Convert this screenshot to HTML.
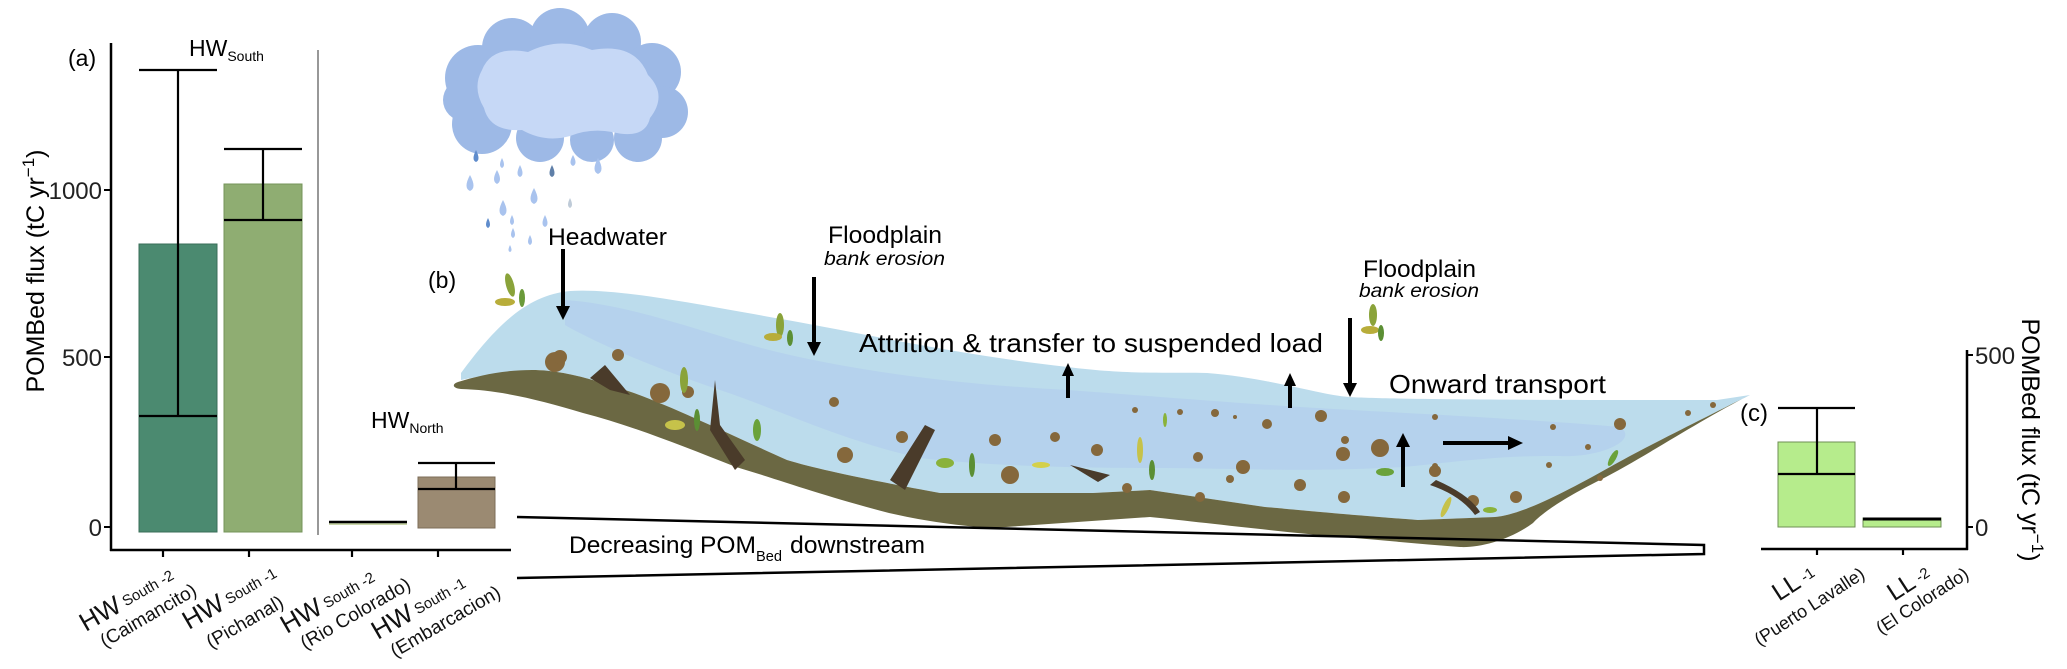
<!DOCTYPE html>
<html><head><meta charset="utf-8"><style>
html,body{margin:0;padding:0;background:#fff;}
svg{display:block;font-family:"Liberation Sans",Arial,sans-serif;}
</style></head><body>
<svg width="2067" height="669" viewBox="0 0 2067 669" xmlns="http://www.w3.org/2000/svg">
<!-- ===== Panel (a) ===== -->
<text x="68" y="66" font-size="23">(a)</text>
<line x1="111" y1="43" x2="111" y2="551" stroke="#000" stroke-width="2.5"/>
<line x1="110" y1="550" x2="511" y2="550" stroke="#000" stroke-width="2.5"/>
<line x1="104" y1="190" x2="111" y2="190" stroke="#000" stroke-width="2"/>
<line x1="104" y1="357" x2="111" y2="357" stroke="#000" stroke-width="2"/>
<line x1="104" y1="527" x2="111" y2="527" stroke="#000" stroke-width="2"/>
<text x="102" y="199" font-size="24" text-anchor="end" fill="#222">1000</text>
<text x="102" y="366" font-size="24" text-anchor="end" fill="#222">500</text>
<text x="102" y="536" font-size="24" text-anchor="end" fill="#222">0</text>
<text transform="translate(44,271) rotate(-90)" font-size="25" text-anchor="middle">POMBed flux (tC yr<tspan dy="-10" font-size="17">−1</tspan><tspan dy="10">)</tspan></text>
<text x="189" y="56" font-size="23">HW<tspan font-size="14" dy="5">South</tspan></text>
<line x1="318" y1="50" x2="318" y2="535" stroke="#777" stroke-width="1.5"/>
<rect x="139" y="244" width="78" height="288" fill="#4b8a70" stroke="#3a6e58"/>
<rect x="224" y="184" width="78" height="348" fill="#8fad72" stroke="#74945a"/>
<rect x="329" y="521" width="78" height="4" fill="#c9d6a8"/>
<line x1="329" y1="522" x2="407" y2="522" stroke="#000" stroke-width="2.5"/>
<rect x="418" y="477" width="77" height="51" fill="#9b8a72" stroke="#7d6d58"/>
<g stroke="#000" stroke-width="2.2">
<line x1="139" y1="70" x2="217" y2="70"/><line x1="178" y1="70" x2="178" y2="416"/><line x1="139" y1="416" x2="217" y2="416"/>
<line x1="224" y1="149" x2="302" y2="149"/><line x1="263" y1="149" x2="263" y2="220"/><line x1="224" y1="220" x2="302" y2="220"/>
<line x1="418" y1="463" x2="495" y2="463"/><line x1="456" y1="463" x2="456" y2="489"/><line x1="418" y1="489" x2="495" y2="489"/>
<line x1="163" y1="551" x2="163" y2="557"/><line x1="249" y1="551" x2="249" y2="557"/><line x1="352" y1="551" x2="352" y2="557"/><line x1="438" y1="551" x2="438" y2="557"/>
</g>
<text x="371" y="428" font-size="23">HW<tspan font-size="14" dy="5">North</tspan></text>
<g font-size="26" fill="#111">
<text transform="translate(176,580) rotate(-30)" text-anchor="end">HW<tspan font-size="15" dy="-2"> South -2</tspan></text>
<text transform="translate(198,594) rotate(-30)" text-anchor="end" font-size="19">(Caimancito)</text>
<text transform="translate(279,578) rotate(-30)" text-anchor="end">HW<tspan font-size="15" dy="-2"> South -1</tspan></text>
<text transform="translate(285,606) rotate(-30)" text-anchor="end" font-size="19">(Pichanal)</text>
<text transform="translate(377,582) rotate(-30)" text-anchor="end">HW<tspan font-size="15" dy="-2"> South -2</tspan></text>
<text transform="translate(412,588) rotate(-30)" text-anchor="end" font-size="19">(Rio Colorado)</text>
<text transform="translate(468,588) rotate(-30)" text-anchor="end">HW<tspan font-size="15" dy="-2"> South -1</tspan></text>
<text transform="translate(502,596) rotate(-30)" text-anchor="end" font-size="19">(Embarcacion)</text>
</g>
<!-- ===== Panel (b) ===== -->
<text x="428" y="288" font-size="23">(b)</text>
<!-- cloud -->
<g fill="#9db9e6">
<circle cx="478" cy="78" r="33"/><circle cx="512" cy="48" r="30"/><circle cx="560" cy="38" r="30"/><circle cx="612" cy="42" r="29"/><circle cx="652" cy="72" r="29"/><circle cx="662" cy="112" r="26"/><circle cx="638" cy="138" r="24"/><circle cx="592" cy="140" r="22"/><circle cx="540" cy="138" r="24"/><circle cx="482" cy="124" r="30"/><circle cx="464" cy="100" r="21"/>
</g>
<path d="M482,70 Q492,45 528,52 Q560,36 592,50 Q635,42 648,75 Q668,95 650,118 Q645,140 612,132 Q590,128 570,136 Q545,143 522,130 Q490,132 484,108 Q472,88 482,70 Z" fill="#c6d8f6"/>
<g fill="#a9c3ee">
<path d="M476,150 q-5,10 0,12 q5,-2 0,-12z" fill="#5f8ccc"/>
<path d="M502,158 q-4,8 0,10 q4,-2 0,-10z"/>
<path d="M470,175 q-7,13 0,16 q7,-3 0,-16z"/><path d="M497,170 q-6,11 0,14 q6,-3 0,-14z"/>
<path d="M520,165 q-5,10 0,12 q5,-2 0,-12z"/><path d="M552,165 q-5,10 0,12 q5,-2 0,-12z" fill="#5f7fa8"/>
<path d="M573,155 q-5,9 0,11 q5,-2 0,-11z"/><path d="M598,158 q-7,13 0,16 q7,-3 0,-16z"/>
<path d="M534,188 q-7,13 0,16 q7,-3 0,-16z"/><path d="M503,200 q-7,13 0,16 q7,-3 0,-16z"/>
<path d="M488,218 q-4,8 0,10 q4,-2 0,-10z" fill="#5f8ccc"/><path d="M512,215 q-4,8 0,10 q4,-2 0,-10z"/>
<path d="M545,215 q-5,10 0,12 q5,-2 0,-12z"/><path d="M570,198 q-4,8 0,10 q4,-2 0,-10z" fill="#bfcbd8"/>
<path d="M513,228 q-4,8 0,10 q4,-2 0,-10z"/><path d="M530,235 q-4,8 0,10 q4,-2 0,-10z"/><path d="M510,245 q-3,6 0,7 q3,-1 0,-7z"/>
</g>
<!-- water -->
<path d="M461,373 C500,320 530,295 570,291 C620,288 700,305 787,320 C870,335 960,355 1068,367 C1130,375 1170,372 1207,373 C1270,378 1320,395 1349,397 C1400,400 1600,400 1717,400 L1750,395 C1700,420 1640,450 1610,467 C1560,495 1520,515 1495,517 L1418,520 C1350,515 1300,510 1265,507 L1150,490 L1093,493 L940,493 C870,480 820,470 787,460 C720,430 680,410 634,393 C590,378 560,370 532,370 C500,372 470,378 461,380 Z" fill="#bcdcec"/>
<path d="M565,300 C640,305 720,340 790,355 C880,375 970,385 1068,390 C1150,396 1220,402 1300,407 C1380,412 1500,417 1620,427 C1640,440 1600,458 1560,456 C1480,455 1420,468 1380,468 C1300,472 1230,468 1150,468 C1060,468 980,465 920,458 C840,440 780,410 720,390 C660,370 600,345 565,325 Z" fill="#b0cbee" opacity="0.6"/>
<!-- ground -->
<path d="M458,382 C480,375 505,370 532,370 C560,370 590,378 634,393 C680,410 720,430 787,460 C820,470 870,480 940,493 L1093,493 L1150,490 L1265,507 C1300,510 1350,515 1418,520 L1495,517 C1520,515 1560,495 1610,467 C1640,450 1700,420 1750,395 C1700,420 1640,460 1600,480 C1560,500 1540,515 1533,523 C1510,540 1480,548 1460,547 C1420,544 1380,540 1342,537 C1280,532 1200,522 1150,517 L991,528 C950,525 920,520 889,513 C820,495 780,480 736,467 C680,445 630,425 583,413 C540,400 500,390 461,389 C452,388 452,384 458,382 Z" fill="#6b6843"/>
<!-- debris blobs -->
<g fill="#85683c">
<circle cx="555" cy="362" r="10"/><circle cx="560" cy="357" r="7"/><circle cx="618" cy="355" r="6"/><circle cx="660" cy="393" r="10"/><circle cx="688" cy="392" r="6"/>
<circle cx="834" cy="402" r="5"/><circle cx="902" cy="437" r="6"/><circle cx="845" cy="455" r="8"/><circle cx="995" cy="440" r="6"/><circle cx="1010" cy="475" r="9"/>
<circle cx="1055" cy="437" r="5"/><circle cx="1097" cy="450" r="6"/><circle cx="1127" cy="488" r="5"/><circle cx="1135" cy="410" r="3"/><circle cx="1180" cy="412" r="3"/>
<circle cx="1198" cy="457" r="5"/><circle cx="1230" cy="479" r="4"/><circle cx="1243" cy="467" r="7"/><circle cx="1215" cy="413" r="4"/><circle cx="1267" cy="424" r="5"/>
<circle cx="1321" cy="416" r="6"/><circle cx="1345" cy="440" r="4"/><circle cx="1380" cy="448" r="9"/><circle cx="1343" cy="454" r="7"/><circle cx="1344" cy="497" r="6"/>
<circle cx="1435" cy="471" r="6"/><circle cx="1473" cy="501" r="6"/><circle cx="1516" cy="497" r="6"/><circle cx="1620" cy="424" r="6"/><circle cx="1553" cy="427" r="3"/>
<circle cx="1549" cy="465" r="3"/><circle cx="1588" cy="447" r="3"/><circle cx="1600" cy="478" r="3"/><circle cx="1688" cy="413" r="3"/><circle cx="1713" cy="405" r="3"/>
<circle cx="1435" cy="417" r="3"/><circle cx="1435" cy="466" r="3"/><circle cx="1300" cy="485" r="6"/><circle cx="1200" cy="497" r="5"/><circle cx="1235" cy="417" r="2"/>
</g>
<!-- twigs -->
<g fill="#4a3b2a">
<path d="M590,378 L605,365 L630,395 L610,390 Z"/><path d="M715,380 L720,425 L745,460 L735,470 L710,430 Z"/>
<path d="M925,425 L935,430 L905,490 L890,480 Z"/><path d="M1070,465 L1110,475 L1098,482 Z"/>
<path d="M1436,480 Q1470,495 1480,512 L1475,515 Q1460,495 1430,485 Z"/>
</g>
<!-- leaves -->
<g>
<ellipse cx="510" cy="285" rx="4" ry="12" fill="#8aa33a" transform="rotate(-15 510 285)"/><ellipse cx="505" cy="302" rx="10" ry="4" fill="#b8ad3a"/><ellipse cx="522" cy="298" rx="3" ry="9" fill="#6a9a3a"/>
<ellipse cx="780" cy="325" rx="4" ry="12" fill="#8aa33a"/><ellipse cx="773" cy="337" rx="9" ry="4" fill="#b8ad3a"/><ellipse cx="790" cy="338" rx="3" ry="8" fill="#5b8f34"/>
<ellipse cx="1373" cy="315" rx="4" ry="11" fill="#8aa33a"/><ellipse cx="1370" cy="330" rx="9" ry="4" fill="#b8ad3a"/><ellipse cx="1381" cy="333" rx="3" ry="8" fill="#5b8f34"/>
<ellipse cx="684" cy="380" rx="4" ry="13" fill="#8aa33a"/><ellipse cx="675" cy="425" rx="10" ry="5" fill="#c6c24a"/><ellipse cx="697" cy="420" rx="3" ry="11" fill="#5b8f34"/>
<ellipse cx="757" cy="430" rx="4" ry="11" fill="#6aa23a"/><ellipse cx="945" cy="463" rx="9" ry="5" fill="#8ab23a"/><ellipse cx="972" cy="465" rx="3" ry="12" fill="#5b8f34"/>
<ellipse cx="1041" cy="465" rx="9" ry="3" fill="#d4d04a"/><ellipse cx="1140" cy="450" rx="3" ry="13" fill="#c6c24a"/><ellipse cx="1152" cy="470" rx="3" ry="10" fill="#5b8f34"/>
<ellipse cx="1165" cy="420" rx="2" ry="7" fill="#8ab23a"/><ellipse cx="1385" cy="472" rx="9" ry="4" fill="#6aa23a"/><ellipse cx="1446" cy="507" rx="3" ry="11" fill="#c6c24a" transform="rotate(25 1446 507)"/>
<ellipse cx="1490" cy="510" rx="7" ry="3" fill="#8ab23a"/><ellipse cx="1613" cy="458" rx="3" ry="9" fill="#6aa23a" transform="rotate(30 1613 458)"/>
</g>
<!-- labels b -->
<g font-size="24" fill="#000">
<text x="548" y="245" textLength="119" lengthAdjust="spacingAndGlyphs">Headwater</text>
<text x="828" y="243" textLength="114" lengthAdjust="spacingAndGlyphs">Floodplain</text>
<text x="824" y="265" font-size="19" font-style="italic" textLength="121" lengthAdjust="spacingAndGlyphs">bank erosion</text>
<text x="859" y="352" font-size="26" textLength="464" lengthAdjust="spacingAndGlyphs">Attrition &amp; transfer to suspended load</text>
<text x="1363" y="277" textLength="113" lengthAdjust="spacingAndGlyphs">Floodplain</text>
<text x="1359" y="297" font-size="19" font-style="italic" textLength="120" lengthAdjust="spacingAndGlyphs">bank erosion</text>
<text x="1389" y="393" font-size="26" textLength="217" lengthAdjust="spacingAndGlyphs">Onward transport</text>
</g>
<!-- arrows -->
<g stroke="#000" stroke-width="4" fill="none">
<line x1="563" y1="249" x2="563" y2="308"/><line x1="814" y1="277" x2="814" y2="344"/>
<line x1="1350" y1="318" x2="1350" y2="385"/><line x1="1068" y1="375" x2="1068" y2="398"/>
<line x1="1290" y1="385" x2="1290" y2="408"/><line x1="1403" y1="445" x2="1403" y2="487"/>
<line x1="1443" y1="443" x2="1510" y2="443"/>
</g>
<g fill="#000">
<path d="M556,306 L570,306 L563,320 Z"/><path d="M807,342 L821,342 L814,356 Z"/><path d="M1343,383 L1357,383 L1350,397 Z"/>
<path d="M1062,376 L1074,376 L1068,363 Z"/><path d="M1284,386 L1296,386 L1290,373 Z"/><path d="M1396,447 L1410,447 L1403,433 Z"/>
<path d="M1508,436 L1508,450 L1523,443 Z"/>
</g>
<!-- decreasing wedge -->
<path d="M517,517 L1704,545 L1704,554 L517,578" fill="none" stroke="#000" stroke-width="2.5"/>
<text x="569" y="553" font-size="24" textLength="187" lengthAdjust="spacingAndGlyphs">Decreasing POM</text>
<text x="756" y="561" font-size="15" textLength="26" lengthAdjust="spacingAndGlyphs">Bed</text>
<text x="790" y="553" font-size="24" textLength="135" lengthAdjust="spacingAndGlyphs">downstream</text>
<!-- ===== Panel (c) ===== -->
<text x="1740" y="421" font-size="24">(c)</text>
<line x1="1967" y1="350" x2="1967" y2="550" stroke="#000" stroke-width="2.5"/>
<line x1="1761" y1="549" x2="1968" y2="549" stroke="#000" stroke-width="2.5"/>
<line x1="1967" y1="355" x2="1973" y2="355" stroke="#000" stroke-width="2"/>
<line x1="1967" y1="527" x2="1973" y2="527" stroke="#000" stroke-width="2"/>
<text x="1975" y="364" font-size="24" fill="#222">500</text>
<text x="1975" y="536" font-size="24" fill="#222">0</text>
<text transform="translate(2022,440) rotate(90)" font-size="25" text-anchor="middle">POMBed flux (tC yr<tspan dy="-10" font-size="17">−1</tspan><tspan dy="10">)</tspan></text>
<rect x="1778" y="442" width="77" height="85" fill="#b6ec8c" stroke="#6f8f55"/>
<rect x="1863" y="518" width="78" height="9" fill="#b6ec8c" stroke="#6f8f55"/>
<g stroke="#000" stroke-width="2.2">
<line x1="1778" y1="408" x2="1855" y2="408"/><line x1="1817" y1="408" x2="1817" y2="474"/><line x1="1778" y1="474" x2="1855" y2="474"/>
<line x1="1863" y1="519" x2="1941" y2="519" stroke-width="3"/>
<line x1="1817" y1="550" x2="1817" y2="555"/><line x1="1903" y1="550" x2="1903" y2="555"/>
</g>
<g font-size="25" fill="#111">
<text transform="translate(1817,577) rotate(-33)" text-anchor="end">LL<tspan font-size="15" dy="-2"> -1</tspan></text>
<text transform="translate(1866,577) rotate(-33)" text-anchor="end" font-size="18">(Puerto Lavalle)</text>
<text transform="translate(1932,577) rotate(-33)" text-anchor="end">LL<tspan font-size="15" dy="-2"> -2</tspan></text>
<text transform="translate(1970,577) rotate(-33)" text-anchor="end" font-size="18">(El Colorado)</text>
</g>
</svg>
</body></html>
